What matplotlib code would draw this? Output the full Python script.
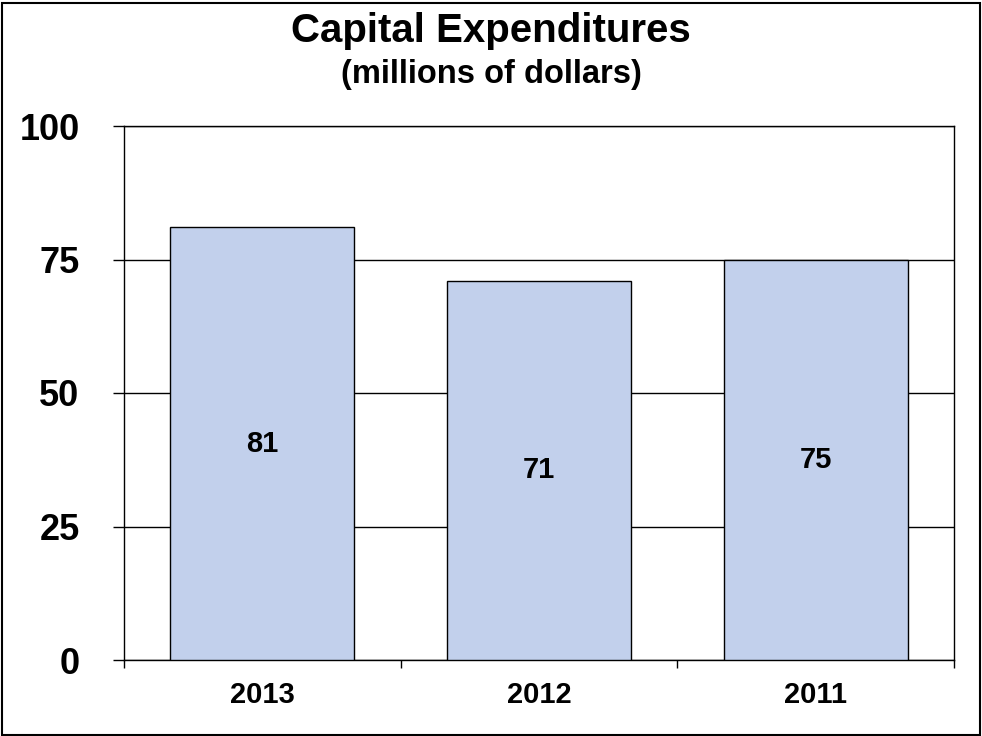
import matplotlib.pyplot as plt
from matplotlib.patches import Rectangle
import numpy as np

years = ["2013", "2012", "2011"]
capex = [81, 71, 75]
y_ticks = [0, 25, 50, 75, 100]

BAR_COLOR = "#C2D0EC"

plt.rcParams["font.family"] = ["Liberation Sans", "DejaVu Sans"]
plt.rcParams["font.weight"] = "bold"

fig = plt.figure(figsize=(9.82, 7.36), dpi=100)
ax = fig.add_axes([124 / 982, 1 - 660 / 736, 830 / 982, 534 / 736])

x = np.arange(len(years))
ax.bar(x, capex, width=0.665, color=BAR_COLOR, edgecolor="black", linewidth=1, zorder=3)

for i, v in enumerate(capex):
    ax.text(x[i], v / 2, str(v), ha="center", va="center", fontsize=21, fontweight="bold", zorder=4)

ax.set_xlim(-0.5, len(years) - 0.5)
ax.set_ylim(0, 100)
ax.set_yticks(y_ticks)
ax.set_yticklabels([str(t) for t in y_ticks], fontsize=26, fontweight="bold")
ax.yaxis.grid(True, color="black", linewidth=1, zorder=0)
ax.tick_params(axis="y", length=8, width=1, pad=24, direction="out")

ax.set_xticks(x)
ax.set_xticklabels(years, fontsize=21, fontweight="bold")
ax.set_xticks(np.arange(-0.5, len(years)), minor=True)
ax.tick_params(axis="x", which="major", length=0, pad=15)
ax.tick_params(axis="x", which="minor", length=6, width=1, direction="out")

for s in ax.spines.values():
    s.set_linewidth(1)
    s.set_color("black")

fig.text(0.5, 1 - 31 / 736, "Capital Expenditures", ha="center", va="center", fontsize=29, fontweight="bold")
fig.text(0.5, 1 - 74 / 736, "(millions of dollars)", ha="center", va="center", fontsize=23.5, fontweight="bold")

# frame around whole picture
fig.patches.append(Rectangle((1.5 / 982, 1.5 / 736), 978 / 982, 732 / 736, transform=fig.transFigure,
                             fill=False, edgecolor="black", linewidth=1.5))

plt.savefig("out.png", dpi=100)
